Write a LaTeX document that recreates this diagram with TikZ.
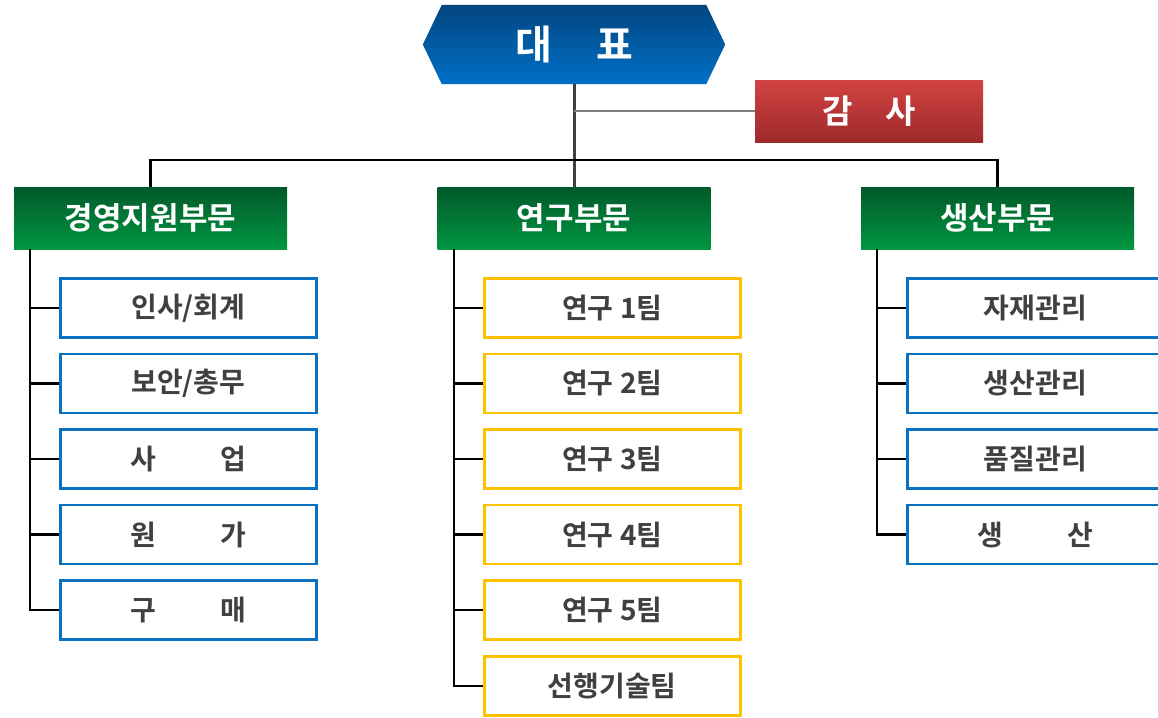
\documentclass[tikz,border=0pt]{standalone}
\usepackage{fontspec}
\setmainfont{Noto Sans CJK KR}[BoldFont={* Bold}]
\usetikzlibrary{positioning}
\definecolor{hdtop}{HTML}{02467F}
\definecolor{hdbot}{HTML}{0070C8}
\definecolor{redtop}{HTML}{D24242}
\definecolor{redbot}{HTML}{9E2A2A}
\definecolor{grtop}{HTML}{01592A}
\definecolor{grbot}{HTML}{009640}
\definecolor{bluebd}{HTML}{0A70C0}
\definecolor{yelbd}{HTML}{FFC000}
\definecolor{txt}{HTML}{404040}
\tikzset{head/.style={minimum width=273pt, minimum height=62pt, top color=grtop, bottom color=grbot, text=white, font=\fontsize{31}{34}\selectfont\bfseries},
    team/.style={draw=bluebd, line width=2.6pt, fill=white, minimum width=256pt, minimum height=59pt, text=txt, font=\fontsize{28}{32}\selectfont\bfseries},
    yteam/.style={team, draw=yelbd},
    line/.style={line width=2.4pt, black},
    tree/.style={line width=2.4pt, black}}

\begin{document}
\begin{tikzpicture}[x=1pt, y=-1pt, node distance=14pt]
    \useasboundingbox (0,0) rectangle (1158,717);
    \clip (0,0) rectangle (1158,717);

    % top
    \node[minimum width=264pt, minimum height=79pt, inner sep=0pt] (ceo) at (574,44.5) {};
    \shade[top color=hdtop, bottom color=hdbot]
        (ceo.north west) -- (ceo.north east) -- ([xshift=19pt]ceo.east) -- (ceo.south east)
        -- (ceo.south west) -- ([xshift=-19pt]ceo.west) -- cycle;
    \node[text=white, font=\fontsize{40}{44}\selectfont\bfseries] at (ceo) {대\hspace{1.1em}표};
    \node[minimum width=228pt, minimum height=62pt, top color=redtop, bottom color=redbot, text=white,
          font=\fontsize{33}{36}\selectfont\bfseries] (audit) at (869,111) {감\hspace{1em}사};

    \node[head] (mgmt) at (150.5,218) {경영지원부문};
    \node[head] (rnd)  at (574,218)   {연구부문};
    \node[head] (prod) at (997.5,218) {생산부문};

    \coordinate (bar) at (574,160);
    \draw[line, color=txt, line width=3pt] (ceo.south) -- (rnd.north);
    \draw[line, color=gray, line width=2pt] (574,111) -- (audit.west);
    \draw[line] (mgmt.north) |- (bar) -| (prod.north);

    % 경영지원부문
    \node[team, anchor=north west] (m1) at (59,277) {인사/회계};
    \node[team, below=of m1] (m2) {보안/총무};
    \node[team, below=of m2] (m3) {사\hspace{2.3em}업};
    \node[team, below=of m3] (m4) {원\hspace{2.3em}가};
    \node[team, below=of m4] (m5) {구\hspace{2.3em}매};

    % 연구부문
    \node[yteam, anchor=north west] (r1) at (483,277) {연구 1팀};
    \node[yteam, below=of r1] (r2) {연구 2팀};
    \node[yteam, below=of r2] (r3) {연구 3팀};
    \node[yteam, below=of r3] (r4) {연구 4팀};
    \node[yteam, below=of r4] (r5) {연구 5팀};
    \node[yteam, below=of r5] (r6) {선행기술팀};

    % 생산부문
    \node[team, anchor=north west] (p1) at (906,277) {자재관리};
    \node[team, below=of p1] (p2) {생산관리};
    \node[team, below=of p2] (p3) {품질관리};
    \node[team, below=of p3] (p4) {생\hspace{2.3em}산};

    \coordinate (mt) at (30,249);
    \coordinate (rt) at (454,249);
    \coordinate (pt) at (877,249);
    \draw[tree] (mt) |- (m5.west);
    \foreach \n in {m1,m2,m3,m4} \draw[tree] (mt |- \n.west) -- (\n.west);
    \draw[tree] (rt) |- (r6.west);
    \foreach \n in {r1,r2,r3,r4,r5} \draw[tree] (rt |- \n.west) -- (\n.west);
    \draw[tree] (pt) |- (p4.west);
    \foreach \n in {p1,p2,p3} \draw[tree] (pt |- \n.west) -- (\n.west);
\end{tikzpicture}
\end{document}
